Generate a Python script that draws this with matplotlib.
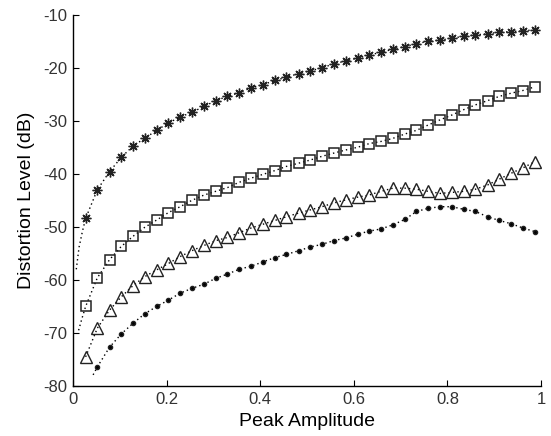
import matplotlib
matplotlib.use("Agg")
import matplotlib.pyplot as plt

plt.rcParams['font.family'] = ['Liberation Sans', 'DejaVu Sans']
plt.rcParams['axes.unicode_minus'] = False

# marker positions along the x axis
peak_amp = [0.027, 0.052, 0.078, 0.103, 0.128, 0.153, 0.179, 0.204, 0.229, 0.254,
            0.280, 0.305, 0.330, 0.355, 0.381, 0.406, 0.431, 0.456, 0.482, 0.507,
            0.532, 0.557, 0.583, 0.608, 0.633, 0.658, 0.684, 0.709, 0.734, 0.759,
            0.785, 0.810, 0.835, 0.860, 0.886, 0.911, 0.936, 0.961, 0.987]

star_db = [-48.4, -43.0, -39.6, -36.9, -34.8, -33.3, -31.8, -30.4, -29.3, -28.4,
           -27.3, -26.2, -25.4, -24.7, -23.8, -23.2, -22.4, -21.8, -21.1, -20.6,
           -20.0, -19.3, -18.7, -18.2, -17.6, -17.1, -16.5, -16.0, -15.5, -15.0,
           -14.8, -14.4, -14.1, -13.8, -13.6, -13.3, -13.2, -13.0, -12.9]

square_db = [-65.0, -59.6, -56.2, -53.7, -51.8, -50.1, -48.7, -47.3, -46.2, -45.0,
             -44.0, -43.3, -42.6, -41.6, -40.8, -40.1, -39.4, -38.6, -38.0, -37.4,
             -36.7, -36.1, -35.5, -35.0, -34.3, -33.9, -33.3, -32.5, -31.8, -30.8,
             -29.8, -28.9, -27.9, -27.0, -26.2, -25.4, -24.8, -24.3, -23.6]

triangle_db = [-74.5, -69.1, -65.7, -63.2, -61.1, -59.4, -58.1, -56.9, -55.6, -54.5,
               -53.5, -52.6, -52.0, -51.1, -50.2, -49.5, -48.8, -48.1, -47.4, -46.8,
               -46.2, -45.5, -44.9, -44.4, -44.0, -43.3, -42.7, -42.7, -42.9, -43.3,
               -43.7, -43.5, -43.3, -42.9, -42.1, -41.0, -39.9, -38.9, -37.7]

# dot series starts at the second x position
dot_db = [-76.4, -72.7, -70.2, -68.2, -66.4, -65.0, -63.8, -62.5, -61.6,
          -60.8, -59.7, -58.9, -58.0, -57.4, -56.6, -55.8, -55.2, -54.5, -53.8,
          -53.3, -52.6, -52.1, -51.4, -50.8, -50.4, -49.6, -48.6, -47.1, -46.5,
          -46.2, -46.2, -46.7, -47.1, -48.1, -48.8, -49.4, -50.2, -50.9]

# dotted lead-in of the curves below the first marker
star_lead_x = [0.007, 0.013, 0.020]
star_lead_y = [-58.0, -53.8, -50.9]
square_lead_x = [0.012, 0.019]
square_lead_y = [-69.5, -67.3]
dot_lead_x = [0.043]
dot_lead_y = [-77.9]

x_ticks = [0, 0.2, 0.4, 0.6, 0.8, 1]
x_ticklabels = ['0', '0.2', '0.4', '0.6', '0.8', '1']
y_ticks = [-80, -70, -60, -50, -40, -30, -20, -10]

fig = plt.figure(figsize=(5.51, 4.36), dpi=100)
ax = fig.add_axes([0.1325, 0.1147, 0.8493, 0.8516])

dotted = (0, (1, 2.2))

series = [
    (star_lead_x, star_lead_y, peak_amp, star_db, dict(marker=(8, 2, 0), markersize=7, mew=1.0)),
    (square_lead_x, square_lead_y, peak_amp, square_db, dict(marker='s', markersize=6.5, mew=1.1, mfc='none')),
    ([], [], peak_amp, triangle_db, dict(marker='^', markersize=8, mew=1.0, mfc='none')),
    (dot_lead_x, dot_lead_y, peak_amp[1:], dot_db, dict(marker='.', markersize=6)),
]

for lx, ly, mx, my, mstyle in series:
    ax.plot(lx + mx, ly + my, linestyle=dotted, color='k', linewidth=1.0)
    ax.plot(mx, my, linestyle='none', color='k', mec='#222222', **mstyle)

ax.set_xlim(0, 1)
ax.set_ylim(-80, -10)
ax.set_xticks(x_ticks)
ax.set_xticklabels(x_ticklabels)
ax.set_yticks(y_ticks)
ax.tick_params(direction='in', length=4, width=0.8, labelsize=12, pad=4, colors='k')
for lab in ax.get_xticklabels() + ax.get_yticklabels():
    lab.set_color('#333333')

ax.spines['top'].set_visible(False)
ax.spines['right'].set_visible(False)
ax.spines['left'].set_linewidth(1.0)
ax.spines['bottom'].set_linewidth(1.0)

ax.set_xlabel('Peak Amplitude', fontsize=14, labelpad=5)
ax.set_ylabel('Distortion Level (dB)', fontsize=14, labelpad=6)

plt.savefig('out.png', dpi=100)
